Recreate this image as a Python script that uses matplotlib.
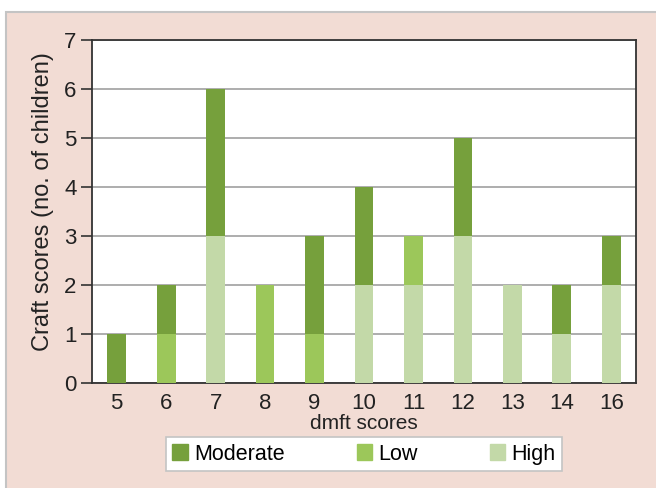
import matplotlib.pyplot as plt
import matplotlib.patches as mpatches
import numpy as np

plt.rcParams['font.family'] = ['Liberation Sans', 'DejaVu Sans']

dmft = ['5', '6', '7', '8', '9', '10', '11', '12', '13', '14', '16']
high = [0, 0, 3, 0, 0, 2, 2, 3, 2, 1, 2]
low = [0, 1, 0, 2, 1, 0, 1, 0, 0, 0, 0]
moderate = [1, 1, 3, 0, 2, 2, 0, 2, 0, 1, 1]

col_mod = '#76a03c'
col_low = '#9cc75a'
col_high = '#c3d9a8'

fig = plt.figure(figsize=(6.56, 4.88), dpi=100)
fig.patch.set_facecolor('white')

# peach panel behind the chart
panel = mpatches.Rectangle((6 / 656, -0.01), 1.0, (488 - 12) / 488 + 0.01,
                           transform=fig.transFigure, facecolor='#f2dcd4',
                           edgecolor='#c4c4c4', linewidth=1.5, zorder=-5)
fig.patches.append(panel)

ax = fig.add_axes([92 / 656, 1 - 383 / 488, (636 - 92) / 656, (383 - 40) / 488])
ax.set_facecolor('white')

x = np.arange(len(dmft))
w = 0.38
high_a = np.array(high)
low_a = np.array(low)
mod_a = np.array(moderate)
ax.bar(x, high_a, w, color=col_high, zorder=3, label='High')
ax.bar(x, low_a, w, bottom=high_a, color=col_low, zorder=3, label='Low')
ax.bar(x, mod_a, w, bottom=high_a + low_a, color=col_mod, zorder=3, label='Moderate')

ax.set_xlim(-0.5, len(dmft) - 0.5)
ax.set_ylim(0, 7)
ax.set_yticks(range(0, 8))
ax.set_xticks(x)
ax.set_xticklabels(dmft)
ax.grid(axis='y', color='#a0a0a0', linewidth=1.2, zorder=1)
ax.set_axisbelow(True)

for s in ax.spines.values():
    s.set_color('#333333')
    s.set_linewidth(1.3)

ax.tick_params(axis='y', direction='out', length=8, width=1.2, color='#333333',
               labelsize=16, labelcolor='#222222', pad=3)
ax.tick_params(axis='x', length=0, labelsize=16, labelcolor='#222222', pad=7)

ax.set_ylabel('Craft scores (no. of children)', fontsize=17, color='#222222')
ax.yaxis.set_label_coords(-0.07, 0.53)
ax.set_xlabel('dmft scores', fontsize=15, color='#222222', labelpad=0)

handles = [mpatches.Patch(color=col_mod, label='Moderate'),
           mpatches.Patch(color=col_low, label='Low'),
           mpatches.Patch(color=col_high, label='High')]
leg = fig.legend(handles=handles, loc='lower left',
                 bbox_to_anchor=(166 / 656, 17 / 488, 396 / 656, 33 / 488),
                 mode='expand', ncol=3, fontsize=15.5, frameon=True,
                 fancybox=False, handlelength=0.7, handleheight=0.7,
                 handletextpad=0.3, borderpad=0.3, borderaxespad=0)
leg.get_frame().set_edgecolor('#c4c4c4')
leg.get_frame().set_linewidth(1.2)
leg.get_frame().set_facecolor('white')
leg.get_frame().set_alpha(1)

fig.savefig('out.png', dpi=100)
